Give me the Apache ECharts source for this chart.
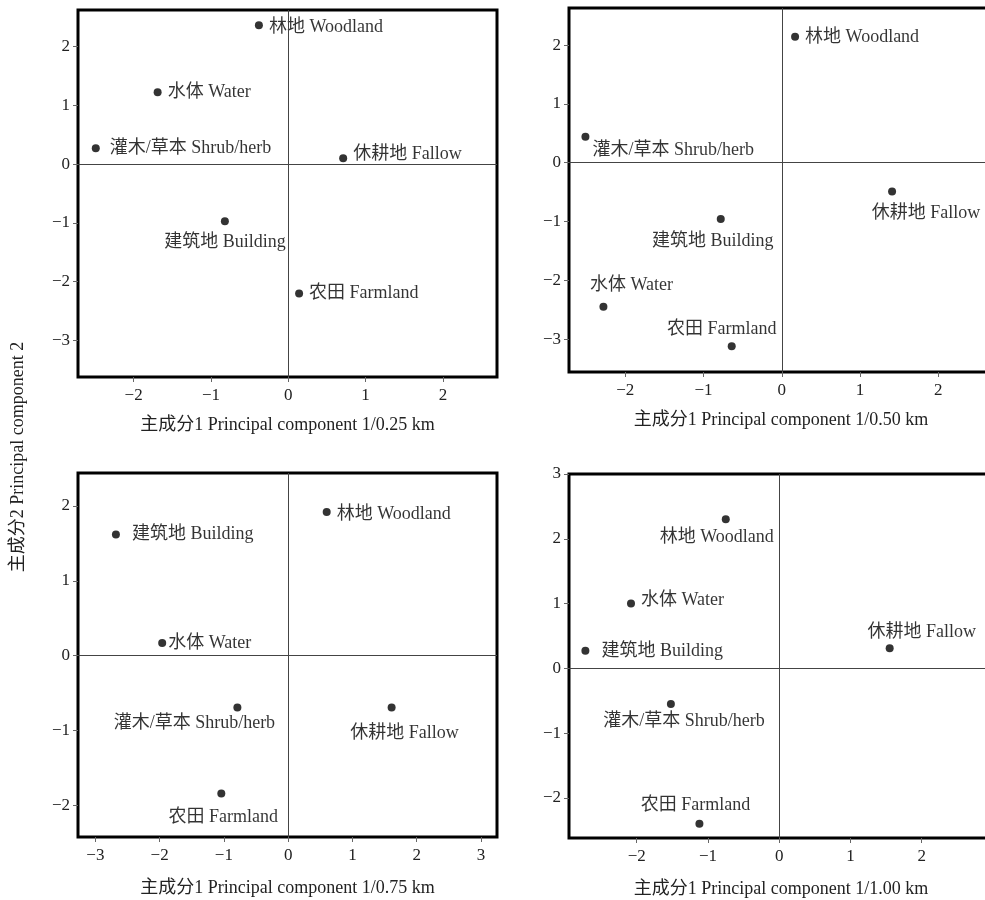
<!DOCTYPE html>
<html>
<head>
<meta charset="utf-8">
<script src="https://cdn.jsdelivr.net/npm/echarts@6/dist/echarts.min.js"></script>
<style>
  html, body { margin: 0; padding: 0; background: #fff; }
  #chart { width: 985px; height: 900px; }
</style>
</head>
<body>
<div id="chart"></div>
<script>
// land-use types, same order in every panel
const categories = [
  "林地 Woodland",
  "水体 Water",
  "灌木/草本 Shrub/herb",
  "休耕地 Fallow",
  "建筑地 Building",
  "农田 Farmland",
];
const scaleNames = ["0.25 km", "0.50 km", "0.75 km", "1.00 km"];

// principal component scores
const pc1_025 = [-0.38, -1.69, -2.49, 0.71, -0.82, 0.14];
const pc2_025 = [2.36, 1.22, 0.27, 0.1, -0.97, -2.2];
const pc1_050 = [0.17, -2.28, -2.51, 1.41, -0.78, -0.64];
const pc2_050 = [2.14, -2.45, 0.44, -0.49, -0.96, -3.12];
const pc1_075 = [0.6, -1.96, -0.79, 1.61, -2.68, -1.04];
const pc2_075 = [1.92, 0.17, -0.69, -0.69, 1.62, -1.84];
const pc1_100 = [-0.75, -2.08, -1.52, 1.55, -2.72, -1.12];
const pc2_100 = [2.3, 1.0, -0.55, 0.31, 0.27, -2.4];

// tick labels
const xTicks_025 = [-2, -1, 0, 1, 2];
const yTicks_025 = [-3, -2, -1, 0, 1, 2];
const xTicks_050 = [-2, -1, 0, 1, 2];
const yTicks_050 = [-3, -2, -1, 0, 1, 2];
const xTicks_075 = [-3, -2, -1, 0, 1, 2, 3];
const yTicks_075 = [-2, -1, 0, 1, 2];
const xTicks_100 = [-2, -1, 0, 1, 2];
const yTicks_100 = [-2, -1, 0, 1, 2, 3];

const panels = [
  { x: pc1_025, y: pc2_025, xt: xTicks_025, yt: yTicks_025 },
  { x: pc1_050, y: pc2_050, xt: xTicks_050, yt: yTicks_050 },
  { x: pc1_075, y: pc2_075, xt: xTicks_075, yt: yTicks_075 },
  { x: pc1_100, y: pc2_100, xt: xTicks_100, yt: yTicks_100 },
];

// layout of each panel (right column runs past the page edge, as in the source)
const grids = [
  { left: 78, top: 10, width: 419, height: 367, xr: [-2.72, 2.7], yr: [-3.62, 2.62], gap: 39 },
  { left: 569, top: 8, width: 424, height: 364, xr: [-2.72, 2.7], yr: [-3.56, 2.63], gap: 39 },
  { left: 78, top: 473, width: 419, height: 364, xr: [-3.27, 3.25], yr: [-2.42, 2.44], gap: 42 },
  { left: 569, top: 474, width: 424, height: 364, xr: [-2.95, 3.0], yr: [-2.62, 3.0], gap: 42 },
];

// where each point's label sits (same category order)
const labelPlacement = [
  [
    { position: "right", distance: 6, offset: [0, 2] },
    { position: "right", distance: 6 },
    { position: "right", distance: 10 },
    { position: "right", distance: 6, offset: [0, -4] },
    { position: "bottom", offset: [0, 3] },
    { position: "right", distance: 6 },
  ],
  [
    { position: "right", distance: 6 },
    { position: "top", offset: [28, -3] },
    { position: "right", offset: [-2, 13] },
    { position: "bottom", offset: [34, 4] },
    { position: "bottom", offset: [-8, 4] },
    { position: "top", offset: [-10, 1] },
  ],
  [
    { position: "right", distance: 6, offset: [0, 2] },
    { position: "right", distance: 2 },
    { position: "bottom", offset: [-43, -2] },
    { position: "bottom", offset: [13, 8] },
    { position: "right", distance: 12 },
    { position: "bottom", offset: [2, 6] },
  ],
  [
    { position: "bottom", offset: [-9, 0] },
    { position: "right", distance: 6, offset: [0, -3] },
    { position: "bottom", offset: [13, -1] },
    { position: "top", offset: [32, 2] },
    { position: "right", distance: 12 },
    { position: "top", offset: [-4, 0] },
  ],
];

const serif = "'Liberation Serif', 'Noto Sans CJK SC', serif";
const minus = (v) => (v < 0 ? "\u2212" + Math.abs(v) : String(v));

const chart = echarts.init(document.getElementById("chart"));

const option = {
  backgroundColor: "#fff",
  animation: false,
  grid: grids.map((g) => ({
    left: g.left,
    top: g.top,
    width: g.width,
    height: g.height,
    outerBoundsMode: "none",
    show: true,
    borderColor: "#000",
    borderWidth: 3,
    backgroundColor: "#fff",
  })),
  xAxis: panels.map((p, i) => ({
    type: "value",
    gridIndex: i,
    position: "bottom",
    min: grids[i].xr[0],
    max: grids[i].xr[1],
    name: "主成分1 Principal component 1/" + scaleNames[i],
    nameLocation: "middle",
    nameGap: grids[i].gap,
    nameTextStyle: { fontFamily: serif, fontSize: 18, color: "#222" },
    axisLine: { show: false, onZero: false },
    splitLine: { show: false },
    axisTick: { show: true, length: 5, lineStyle: { color: "#666" }, customValues: p.xt },
    axisLabel: {
      customValues: p.xt,
      formatter: minus,
      fontFamily: serif,
      fontSize: 17,
      color: "#222",
      margin: 10,
    },
  })),
  yAxis: panels.map((p, i) => ({
    type: "value",
    gridIndex: i,
    position: "left",
    min: grids[i].yr[0],
    max: grids[i].yr[1],
    axisLine: { show: false, onZero: false },
    splitLine: { show: false },
    axisTick: { show: true, length: 5, lineStyle: { color: "#666" }, customValues: p.yt },
    axisLabel: {
      customValues: p.yt,
      formatter: minus,
      fontFamily: serif,
      fontSize: 17,
      color: "#222",
      margin: 8,
    },
  })),
  series: panels.map((p, i) => ({
    type: "scatter",
    xAxisIndex: i,
    yAxisIndex: i,
    symbol: "circle",
    symbolSize: 8,
    itemStyle: { color: "#000" },
    label: {
      show: true,
      formatter: "{b}",
      fontFamily: serif,
      fontSize: 18,
      color: "#000",
    },
    data: p.x.map((x, k) => ({
      name: categories[k],
      value: [x, p.y[k]],
      label: labelPlacement[i][k],
    })),
    markLine: {
      silent: true,
      symbol: "none",
      label: { show: false },
      lineStyle: { color: "#444", width: 1, type: "solid" },
      data: [{ xAxis: 0 }, { yAxis: 0 }],
    },
  })),
  graphic: [
    {
      type: "text",
      x: 18,
      y: 457,
      rotation: Math.PI / 2,
      style: {
        text: "主成分2 Principal component 2",
        fontFamily: serif,
        fontSize: 18,
        fill: "#222",
        align: "center",
        verticalAlign: "middle",
      },
    },
  ],
};

chart.setOption(option);
</script>
</body>
</html>
